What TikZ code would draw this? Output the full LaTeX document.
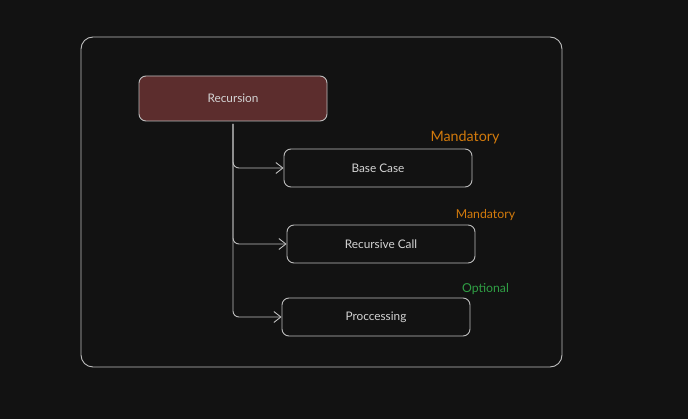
\documentclass[tikz,border=0pt]{standalone}
\usepackage{fontspec}
\setmainfont{Lato}
\usetikzlibrary{arrows.meta}
\definecolor{bgdark}{HTML}{121212}
\definecolor{edgegray}{HTML}{BDBDBD}
\definecolor{textgray}{HTML}{D4D4D4}
\definecolor{recfill}{HTML}{5C2D2D}
\definecolor{mandorange}{HTML}{D27A0C}
\definecolor{optgreen}{HTML}{2F9E44}
\tikzset{
  stepbox/.style={draw=edgegray, line width=0.9pt, rounded corners=7pt, minimum width=188pt,
    minimum height=38pt, text=textgray, font=\fontsize{11.8}{13}\selectfont},
  link/.style={draw=edgegray, line width=0.9pt, rounded corners=6pt,
    -{Straight Barb[length=7pt,width=11pt]}},
  tag/.style={font=\fontsize{#1}{#1}\selectfont}
}
\begin{document}
\begin{tikzpicture}[x=1pt,y=-1pt]
  % Nền và khung
  \fill[bgdark] (0,0) rectangle (688,419);
  \useasboundingbox (0,0) rectangle (688,419);
  \draw[edgegray, line width=0.9pt, rounded corners=12pt] (81,37) rectangle (562,367);
  % Các khối
  \node[stepbox, fill=recfill, minimum height=45pt] (rec) at (233,98.5) {Recursion};
  \node[stepbox] (base) at (378,168) {Base Case};
  \node[stepbox] (call) at (381,244) {Recursive Call};
  \node[stepbox] (proc) at (376,317) {Proccessing};
  % Mũi tên
  \coordinate (trunk) at (233,124);
  \draw[link] (trunk) |- (base.west);
  \draw[link] (trunk) |- (call.west);
  \draw[link] (trunk) |- (proc.west);
  % Nhãn
  \node[tag=14.3, text=mandorange] (m1) at (465,137.5) {Mandatory};
  \node[tag=12.3, text=mandorange] (m2) at (485.5,215.5) {Mandatory};
  \node[tag=12.3, text=optgreen] (opt) at (485.5,289.5) {Optional};
\end{tikzpicture}
\end{document}
